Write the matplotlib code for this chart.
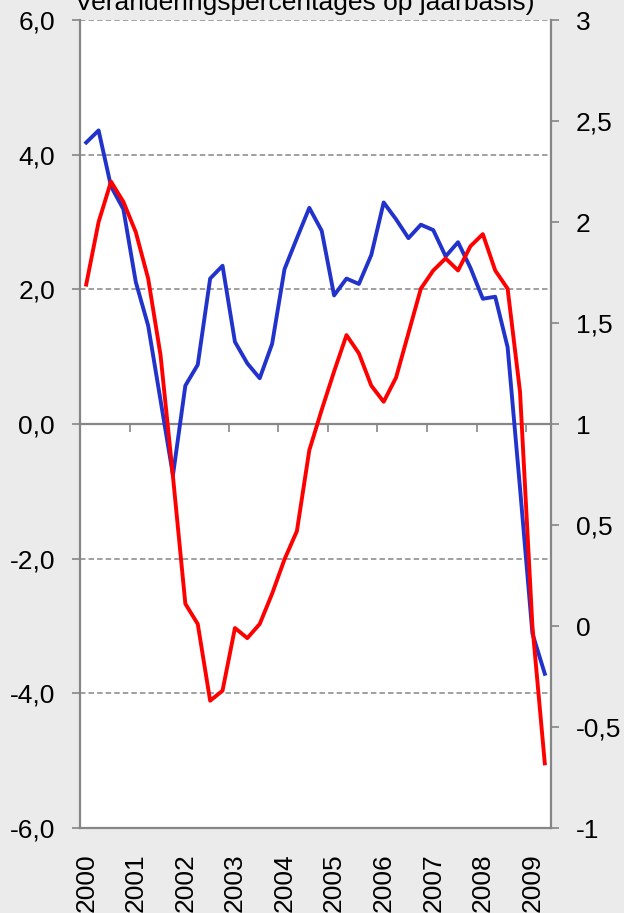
import numpy as np
import matplotlib
matplotlib.use("Agg")
import matplotlib.pyplot as plt
from matplotlib.ticker import FuncFormatter

plt.rcParams['font.family'] = ['Liberation Sans', 'DejaVu Sans']

# ---- data (quarterly, 2000 Q1 .. 2009 Q2) ----
years = ['2000', '2001', '2002', '2003', '2004', '2005', '2006', '2007', '2008', '2009']
quarters_per_year = 4

# blue series, left axis (%)
blue = [4.18, 4.36, 3.53, 3.19, 2.11, 1.46, 0.35, -0.76,
        0.57, 0.88, 2.16, 2.35, 1.22, 0.90, 0.68, 1.19,
        2.30, 2.76, 3.21, 2.87, 1.91, 2.16, 2.08, 2.51,
        3.29, 3.04, 2.76, 2.96, 2.88, 2.49, 2.70, 2.32,
        1.86, 1.89, 1.14, -0.95, -3.11, -3.71]

# red series, right axis
red = [1.69, 2.00, 2.20, 2.10, 1.95, 1.72, 1.34, 0.74,
       0.11, 0.01, -0.37, -0.32, -0.01, -0.06, 0.01, 0.16,
       0.33, 0.47, 0.87, 1.07, 1.26, 1.44, 1.35, 1.19,
       1.11, 1.23, 1.45, 1.67, 1.76, 1.82, 1.76, 1.88,
       1.94, 1.76, 1.67, 1.16, 0.00, -0.68]

title = 'Veranderingspercentages op jaarbasis)'

# ---- styling ----
W, H = 624, 913
BG = '#ebebeb'
GRAY = '#868686'
BLUE = '#2233cc'
RED = '#ff0000'
FS = 19
LW = 2.8
px = 0.72  # points per pixel at dpi 100

fig = plt.figure(figsize=(W / 100, H / 100), dpi=100, facecolor=BG)
left, right, top, bottom = 80, 551, 20, 828
ax = fig.add_axes([left / W, 1 - bottom / H, (right - left) / W, (bottom - top) / H])
ax.set_facecolor('white')

n = len(blue)
x = np.arange(n)

ax.set_xlim(-0.5, n - 0.5)
ax.set_ylim(-6, 6)
ax.set_yticks(np.arange(-6, 6.1, 2))
ax.yaxis.set_major_formatter(FuncFormatter(lambda v, p: f"{v:.1f}".replace('.', ',')))
ax.yaxis.grid(True, color=GRAY, linestyle=(0, (3.6, 2.0)), linewidth=1.1)
ax.set_axisbelow(True)

ax.tick_params(axis='y', direction='out', length=8 * px, width=1.2, color=GRAY,
               pad=17 * px, labelsize=FS, labelcolor='black')
year_pos = np.arange(0, n, quarters_per_year)
ax.set_xticks(year_pos)
ax.set_xticklabels(years[:len(year_pos)], rotation=90)
ax.tick_params(axis='x', length=0, pad=25 * px, labelsize=FS, labelcolor='black')

for s in ['top', 'right']:
    ax.spines[s].set_visible(False)
for s in ['left', 'bottom']:
    ax.spines[s].set_color(GRAY)
    ax.spines[s].set_linewidth(1.6)

# zero line with category-boundary ticks
sec = ax.secondary_xaxis(0.5)
sec.set_alignment('bottom')
sec.set_xticks(np.arange(-0.5, n, quarters_per_year))
sec.set_xticklabels([])
sec.tick_params(axis='x', direction='out', length=8 * px, width=1.2, color=GRAY)
sec.spines['bottom'].set_color(GRAY)
sec.spines['bottom'].set_linewidth(1.6)
sec.spines['top'].set_visible(False)

ax.plot(x, blue, color=BLUE, linewidth=LW, zorder=3)

ax2 = ax.twinx()
ax2.set_ylim(-1, 3)
ax2.set_yticks(np.arange(-1, 3.01, 0.5))
ax2.yaxis.set_major_formatter(FuncFormatter(lambda v, p: f"{v:g}".replace('.', ',')))
ax2.tick_params(axis='y', direction='out', length=8 * px, width=1.2, color=GRAY,
                pad=17 * px, labelsize=FS, labelcolor='black')
for s in ['top', 'bottom', 'left']:
    ax2.spines[s].set_visible(False)
ax2.spines['right'].set_color(GRAY)
ax2.spines['right'].set_linewidth(1.6)
ax2.plot(x, red, color=RED, linewidth=LW, zorder=3)

fig.text(305 / W, 1 - 10 / H, title, ha='center', va='baseline', fontsize=FS)

fig.savefig('out.png', dpi=100, facecolor=BG)
